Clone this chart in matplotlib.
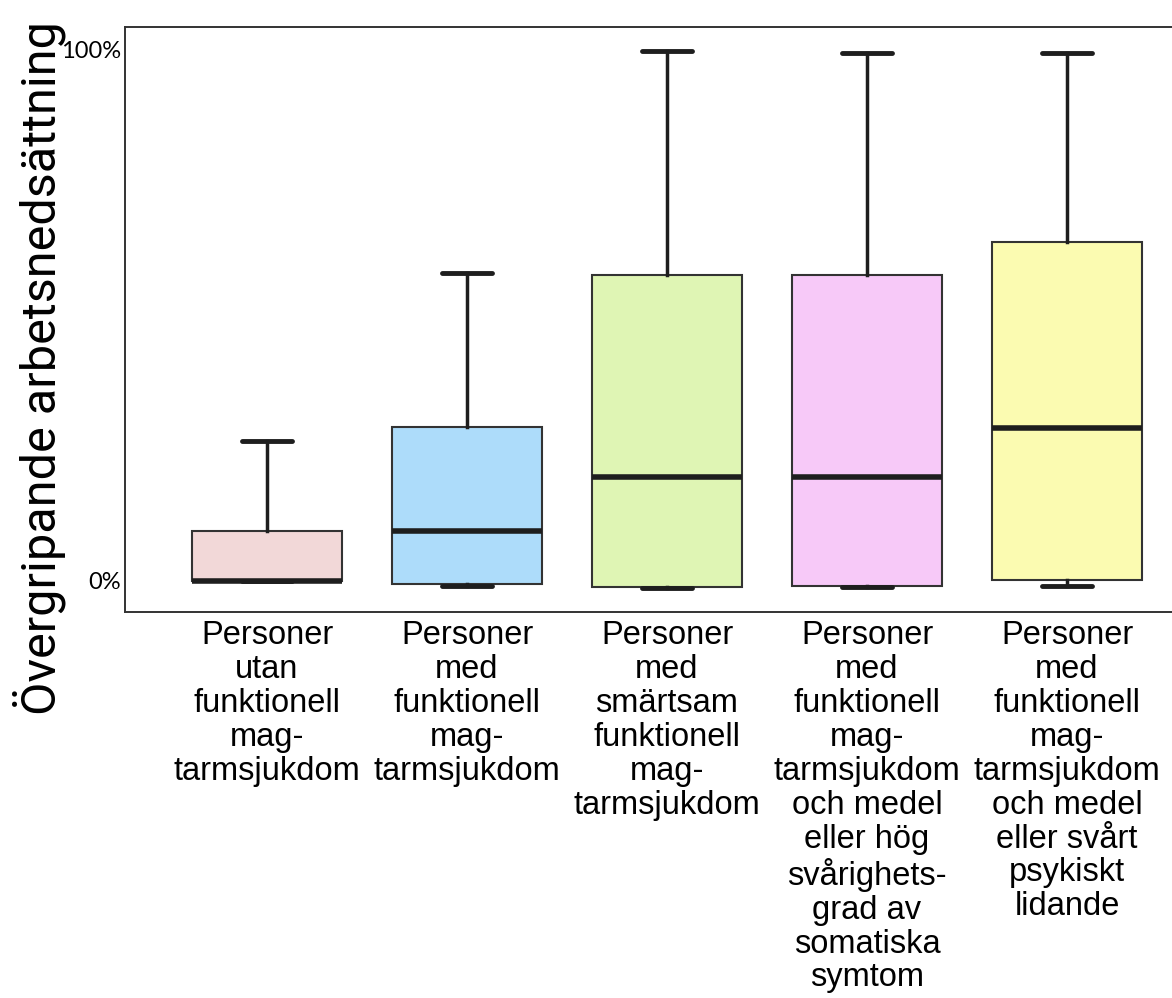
import matplotlib
matplotlib.use("Agg")
import matplotlib.pyplot as plt

# values (percent)
labels = [
    "Personer\nutan\nfunktionell\nmag-\ntarmsjukdom",
    "Personer\nmed\nfunktionell\nmag-\ntarmsjukdom",
    "Personer\nmed\nsmärtsam\nfunktionell\nmag-\ntarmsjukdom",
    "Personer\nmed\nfunktionell\nmag-\ntarmsjukdom\noch medel\neller hög\nsvårighets-\ngrad av\nsomatiska\nsymtom",
    "Personer\nmed\nfunktionell\nmag-\ntarmsjukdom\noch medel\neller svårt\npsykiskt\nlidande",
]
whislo = [0.0, -0.9, -1.3, -1.1, -0.9]
q1 = [0.0, -0.6, -1.1, -0.9, 0.2]
med = [0.0, 9.4, 19.6, 19.6, 28.8]
q3 = [9.4, 29.0, 57.6, 57.6, 63.8]
whishi = [26.4, 58.0, 99.8, 99.4, 99.4]
colors = ["#f2d8d8", "#addcfa", "#dff5b4", "#f7c9f8", "#fbfbb1"]

stats = []
for i in range(len(labels)):
    stats.append(dict(whislo=whislo[i], q1=q1[i], med=med[i], q3=q3[i],
                      whishi=whishi[i], fliers=[]))

fig = plt.figure(figsize=(11.72, 9.98), dpi=100, facecolor="white")
ax = fig.add_axes([125/1172, 386/998, 1082/1172, 585/998])

bp = ax.bxp(stats, positions=range(5), widths=0.75, patch_artist=True,
            showfliers=False, capwidths=0.25,
            boxprops=dict(linewidth=1.5, edgecolor="#333333"),
            medianprops=dict(linewidth=4, color="#1e1e1e", solid_capstyle="butt"),
            whiskerprops=dict(linewidth=2.5, color="#1e1e1e"),
            capprops=dict(linewidth=3.5, color="#1e1e1e", solid_capstyle="round"))
for patch, c in zip(bp["boxes"], colors):
    patch.set_facecolor(c)

ax.set_xlim(-0.71, 4.7)
ax.set_ylim(-5.84, 104.3)
ax.set_yticks([0, 100])
ax.set_yticklabels(["0%", "100%"], family=["Lato", "DejaVu Sans"], fontsize=17)
ax.set_xticks(range(5))
ax.set_xticklabels(labels, family=["Liberation Sans", "DejaVu Sans"],
                   fontsize=23.5, linespacing=1.12, va="top")
ax.tick_params(axis="both", length=0)
ax.tick_params(axis="x", pad=6)
ax.tick_params(axis="y", pad=3)
for s in ax.spines.values():
    s.set_linewidth(1.4)
    s.set_color("#333333")

fig.text(39/1172, 1 - 368/998, "Övergripande arbetsnedsättning", rotation=90,
         ha="center", va="center", fontsize=35,
         family=["Roboto", "DejaVu Sans"])

fig.savefig("out.png", dpi=100)
